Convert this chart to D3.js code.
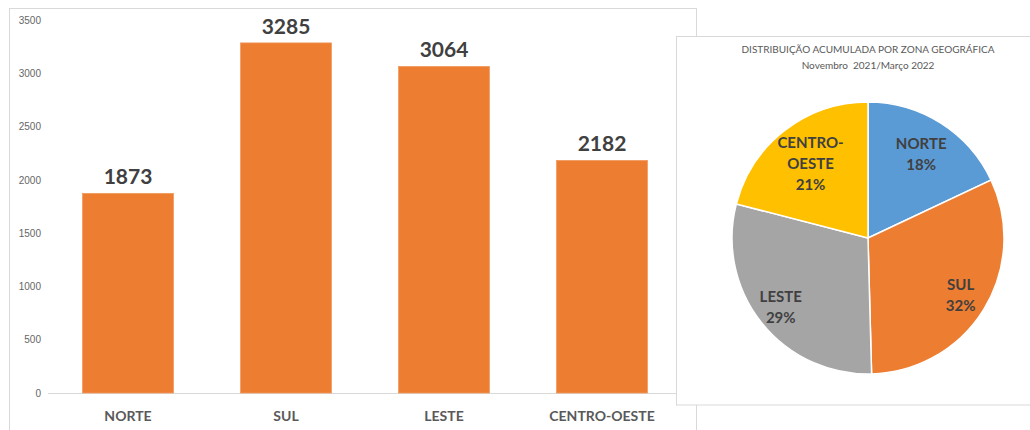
<!DOCTYPE html>
<html>
<head>
<meta charset="utf-8">
<script src="https://cdn.jsdelivr.net/npm/d3@7"></script>
<style>
  html, body { margin: 0; padding: 0; background: #fff; }
  svg { display: block; font-family: Lato, "Open Sans", sans-serif; }
</style>
</head>
<body>
<svg id="chart" width="1030" height="430"></svg>
<script>
// Regional totals, Nov 2021 – Mar 2022
const categories = ["NORTE", "SUL", "LESTE", "CENTRO-OESTE"];
const values = [1873, 3285, 3064, 2182];
const yTicks = [0, 500, 1000, 1500, 2000, 2500, 3000, 3500];
const pieColors = ["#5B9BD5", "#ED7D31", "#A5A5A5", "#FFC000"];
const pieLabels = [["NORTE"], ["SUL"], ["LESTE"], ["CENTRO-", "OESTE"]];
const pieTitle = ["DISTRIBUIÇÃO ACUMULADA POR ZONA GEOGRÁFICA", "Novembro  2021/Março 2022"];

const svg = d3.select("#chart");
const frameStroke = "#d9d9d9";

// ---- Column chart ----
svg.append("rect")
  .attr("x", 9.5).attr("y", 8.5).attr("width", 687).attr("height", 440)
  .attr("fill", "#fff").attr("stroke", frameStroke);

const x = d3.scaleBand().domain(categories).range([49, 681]).paddingInner(0.425).paddingOuter(0.2125);
const y = d3.scaleLinear().domain([0, 3500]).range([393, 20]);

const yAxis = svg.append("g")
  .attr("transform", "translate(48,0)")
  .call(d3.axisLeft(y).tickValues(yTicks).tickSize(0).tickPadding(7).tickFormat(d3.format("d")));
yAxis.select(".domain").remove();
yAxis.selectAll("text").attr("fill", "#666").attr("font-size", 10);

svg.append("line")
  .attr("x1", 48).attr("x2", 690)
  .attr("y1", y(0) + 0.5).attr("y2", y(0) + 0.5)
  .attr("stroke", frameStroke);

svg.append("g").selectAll("rect")
  .data(values)
  .join("rect")
  .attr("x", (d, i) => x(categories[i]))
  .attr("y", d => y(d))
  .attr("width", x.bandwidth())
  .attr("height", d => y(0) - y(d))
  .attr("fill", "#ED7D31")
  .attr("stroke", "#f09a5c").attr("stroke-width", 0.8);

svg.append("g").selectAll("text")
  .data(values)
  .join("text")
  .attr("x", (d, i) => x(categories[i]) + x.bandwidth() / 2)
  .attr("y", d => y(d) - 9)
  .attr("text-anchor", "middle")
  .attr("font-size", 21).attr("font-weight", "bold")
  .attr("fill", "#404040")
  .text(d => d);

svg.append("g").selectAll("text")
  .data(categories)
  .join("text")
  .attr("x", d => x(d) + x.bandwidth() / 2)
  .attr("y", 421)
  .attr("text-anchor", "middle")
  .attr("font-size", 14).attr("font-weight", "bold")
  .attr("fill", "#595959")
  .text(d => d);

// ---- Pie chart panel ----
svg.append("rect")
  .attr("x", 676.5).attr("y", 36.5).attr("width", 370).attr("height", 368.5)
  .attr("fill", "#fff").attr("stroke", frameStroke);

svg.append("g").selectAll("text")
  .data(pieTitle)
  .join("text")
  .attr("x", 868)
  .attr("y", (d, i) => 53 + i * 16)
  .attr("text-anchor", "middle")
  .attr("font-size", 10)
  .attr("fill", "#595959")
  .attr("xml:space", "preserve")
  .style("white-space", "pre")
  .text(d => d);

const cx = 868, cy = 238, R = 136;
const total = d3.sum(values);
const pie = d3.pie().sort(null).value(d => d)(values);
const arc = d3.arc().innerRadius(0).outerRadius(R);
// label distance from the centre, as a fraction of the radius, per slice
const labelRadius = [0.73, 0.8, 0.82, 0.69];

const pg = svg.append("g").attr("transform", `translate(${cx},${cy})`);
pg.selectAll("path")
  .data(pie)
  .join("path")
  .attr("d", arc)
  .attr("fill", (d, i) => pieColors[i])
  .attr("stroke", "#fff").attr("stroke-width", 1.5);

pg.selectAll("text.lbl")
  .data(pie)
  .join("text")
  .attr("class", "lbl")
  .attr("text-anchor", "middle")
  .attr("font-size", 15).attr("font-weight", "bold")
  .attr("fill", "#404040")
  .each(function (d, i) {
    const r = R * labelRadius[i];
    const [lx, ly] = d3.arc().innerRadius(r).outerRadius(r).centroid(d);
    const lines = pieLabels[i].concat([Math.round(d.value / total * 100) + "%"]);
    const lh = 21;
    const t = d3.select(this);
    lines.forEach((ln, k) => {
      t.append("tspan")
        .attr("x", lx)
        .attr("y", ly + (k - (lines.length - 1) / 2) * lh + 5)
        .text(ln);
    });
  });
</script>
</body>
</html>
